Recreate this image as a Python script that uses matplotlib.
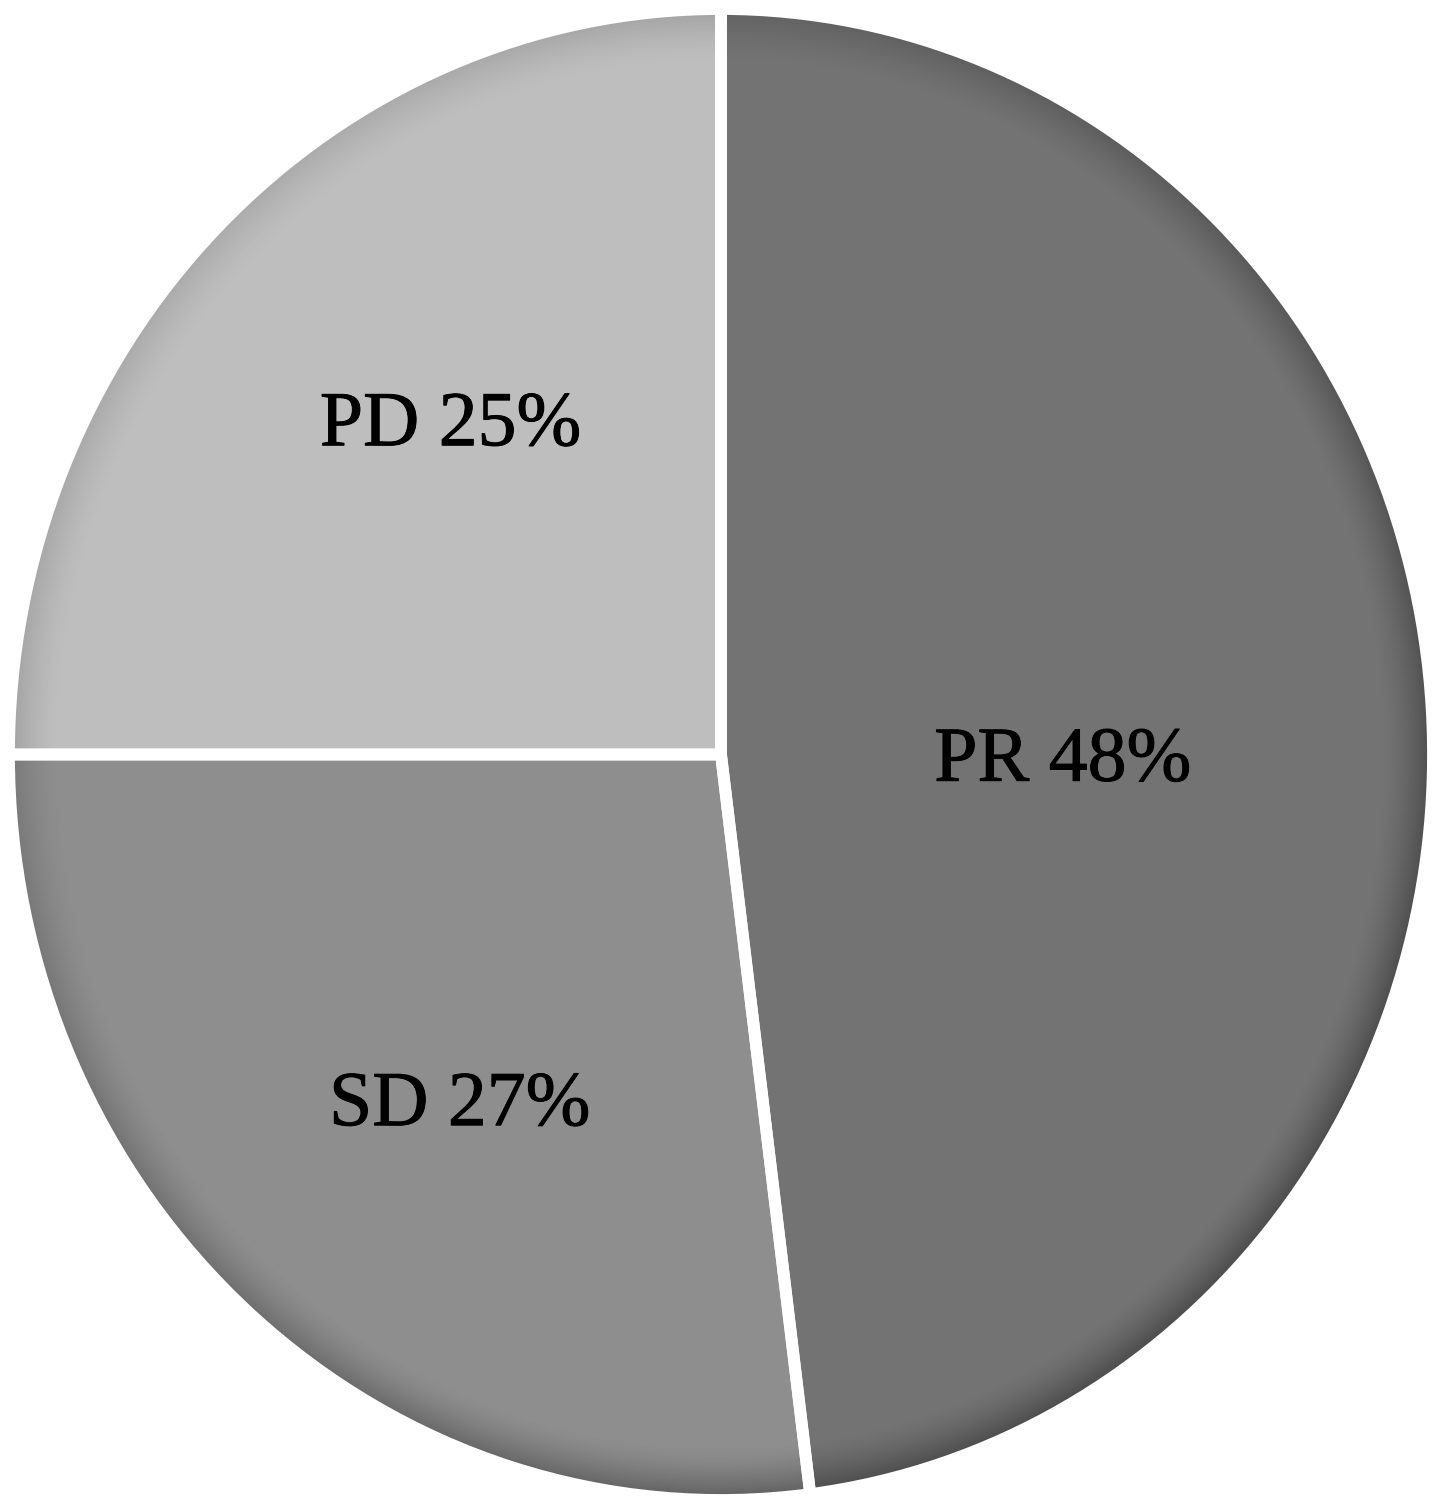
import numpy as np
import matplotlib
matplotlib.use('Agg')
import matplotlib.pyplot as plt
import matplotlib.patheffects as pe
from matplotlib.patches import Circle, Wedge

### Data
labels  = ['PR', 'SD', 'PD']
shares  = [48, 27, 25]
colors  = ['#737373', '#8e8e8e', '#bebebe']

# label anchor points (axes data units, pie radius = 1)
label_xy = [(0.48, -0.01), (-0.367, -0.472), (-0.38, 0.44)]

### Figure
W, H = 1441, 1511
fig = plt.figure(figsize=(W/100, H/100), dpi=100)

# pie bounding box in pixels (slightly elliptical in the original)
left, right, top, bottom = 9, 1433, 9, 1500
ax = fig.add_axes([left/W, (H - bottom)/H, (right - left)/W, (bottom - top)/H])

wedges, _ = ax.pie(shares, colors=colors, startangle=90, counterclock=False,
                   radius=1.0, wedgeprops=dict(edgecolor='none', linewidth=0))
ax.set_aspect('auto')
ax.set_xlim(-1, 1)
ax.set_ylim(-1, 1)
ax.axis('off')

### Rim shading (inner shadow towards the circumference, stronger bottom-right)
n = 800
xx, yy = np.meshgrid(np.linspace(-1, 1, n), np.linspace(-1, 1, n))
rr = np.hypot(xx, yy)
ang = np.arctan2(yy, xx)
weight = 0.65 + 0.35 * np.cos(ang + np.pi/4)
alpha = 0.34 * weight * np.clip((rr - 0.93) / 0.065, 0, 1)**1.5
shade = np.zeros((n, n, 4))
shade[..., 3] = alpha
clip = Circle((0, 0), 1.0, transform=ax.transData)
im = ax.imshow(shade, extent=(-1, 1, -1, 1), origin='lower', zorder=1.5,
               aspect='auto', interpolation='bilinear')
im.set_clip_path(clip)

# white separators on top of shading
for w in wedges:
    ax.add_patch(Wedge(w.center, w.r, w.theta1, w.theta2, facecolor='none',
                       edgecolor='white', linewidth=8.5, zorder=2))

### Labels
for lab, pct, (x, y) in zip(labels, shares, label_xy):
    ax.text(x, y, f'{lab} {pct}%', ha='center', va='center', zorder=3,
            fontsize=56, family='Liberation Serif', color='black',
            path_effects=[pe.withStroke(linewidth=0.7, foreground='black')])

fig.savefig('out.png', dpi=100, facecolor='white')
